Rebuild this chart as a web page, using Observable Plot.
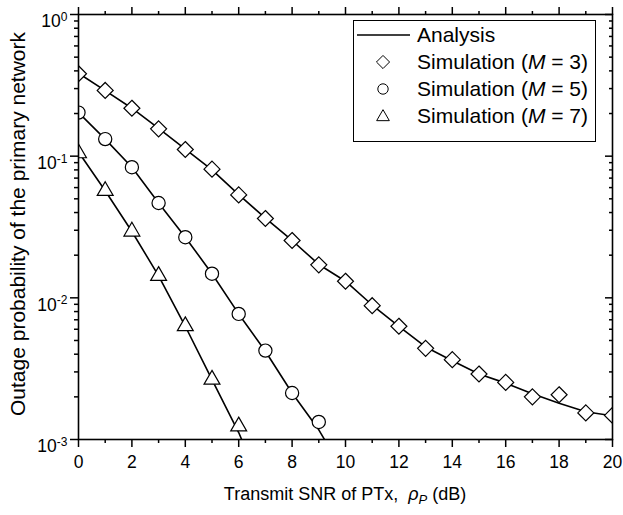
<!DOCTYPE html>
<html><head><meta charset="utf-8">
<script src="https://cdn.jsdelivr.net/npm/d3@7"></script>
<script src="https://cdn.jsdelivr.net/npm/@observablehq/plot@0.6"></script>
<style>
body{margin:0;background:#fff;}
</style>
</head><body><div id="chart"></div>
<script>
// ---- data ----
const snrDb = [0,1,2,3,4,5,6,7,8,9,10,11,12,13,14,15,16,17,18,19,20];
const anaM3 = [0.385,0.290,0.218,0.157,0.112,0.080,0.0535,0.0365,0.0254,0.0172,0.0131,0.0089,0.0063,0.0045,0.0036,0.0029,0.0025,0.0021,0.0018,0.00157,0.00147];
const simM3 = [0.382,0.291,0.218,0.156,0.1115,0.081,0.0533,0.0363,0.0254,0.0171,0.0131,0.0088,0.0063,0.0044,0.00366,0.0029,0.00253,0.0020,0.00207,0.00154,0.00148];
const anaM5 = [0.203,0.132,0.0836,0.0467,0.0268,0.0148,0.0077,0.0042,0.00213,0.00117,0.00056];
const simM5 = [0.203,0.132,0.0836,0.0467,0.0268,0.0148,0.0077,0.00424,0.00213,0.00133];
const anaM7 = [0.107,0.057,0.0294,0.0143,0.0063,0.00265,0.00112,0.0004];
const simM7 = [0.105,0.0569,0.0294,0.0143,0.00632,0.00265,0.00124];
const xMajor = [0,2,4,6,8,10,12,14,16,18,20];
const xMinor = [1,3,5,7,9,11,13,15,17,19];
const yMajor = [1e-3,1e-2,1e-1,1];
const yMinor = [2e-3,3e-3,4e-3,5e-3,6e-3,7e-3,8e-3,9e-3,2e-2,3e-2,4e-2,5e-2,6e-2,7e-2,8e-2,9e-2,0.2,0.3,0.4,0.5,0.6,0.7,0.8,0.9];
const legendLabels = ["Analysis", "3", "5", "7"];

const toRows = (ys) => ys.map((v, i) => ({x: snrDb[i], y: v}));
const FONT = "Arial, 'Liberation Sans', Helvetica, sans-serif";
const blank = () => "";

const plot = Plot.plot({
  width: 623, height: 515,
  marginLeft: 78, marginRight: 11, marginTop: 14, marginBottom: 76,
  style: {fontFamily: FONT, fontSize: "17.5px", background: "white", color: "black", overflow: "visible"},
  x: {domain: [0, 20]},
  y: {type: "log", domain: [1e-3, 1]},
  marks: [
    // bottom axis
    Plot.axisX({anchor: "bottom", ticks: xMajor, tickSize: 8, tickPadding: 8, tickFormat: d => String(d), label: null, strokeWidth: 1.5}),
    Plot.axisX({anchor: "bottom", ticks: xMinor, tickSize: 4, tickFormat: blank, label: null, strokeWidth: 1.5}),
    // top axis
    Plot.axisX({anchor: "top", ticks: xMajor, tickSize: 8, tickFormat: blank, label: null, strokeWidth: 1.5}),
    Plot.axisX({anchor: "top", ticks: xMinor, tickSize: 4, tickFormat: blank, label: null, strokeWidth: 1.5}),
    // left axis
    Plot.axisY({anchor: "left", ticks: yMajor, tickSize: 8, tickPadding: 3, tickFormat: d => String(Math.round(Math.log10(d))), label: null, strokeWidth: 1.5}),
    Plot.axisY({anchor: "left", ticks: yMinor, tickSize: 4, tickFormat: blank, label: null, strokeWidth: 1.5}),
    // right axis (ticks point inward)
    Plot.axisY({anchor: "right", ticks: yMajor, tickSize: -8, tickFormat: blank, label: null, strokeWidth: 1.5}),
    Plot.axisY({anchor: "right", ticks: yMinor, tickSize: -4, tickFormat: blank, label: null, strokeWidth: 1.5}),
    // analysis curves
    Plot.line(toRows(anaM3), {x: "x", y: "y", stroke: "black", strokeWidth: 1.6, clip: true}),
    Plot.line(toRows(anaM5), {x: "x", y: "y", stroke: "black", strokeWidth: 1.6, clip: true}),
    Plot.line(toRows(anaM7), {x: "x", y: "y", stroke: "black", strokeWidth: 1.6, clip: true}),
    // simulation markers
    Plot.dot(toRows(simM3), {x: "x", y: "y", symbol: "diamond2", r: 7.2, fill: "white", stroke: "black", strokeWidth: 1.2, clip: true}),
    Plot.dot(toRows(simM5), {x: "x", y: "y", symbol: "circle", r: 6.6, fill: "white", stroke: "black", strokeWidth: 1.2, clip: true}),
    Plot.dot(toRows(simM7), {x: "x", y: "y", symbol: "triangle", r: 5.9, fill: "white", stroke: "black", strokeWidth: 1.2, clip: true}),
    Plot.frame({stroke: "black", strokeWidth: 1.6})
  ]
});

document.getElementById("chart").appendChild(plot);
const svg = d3.select(plot);

// superscript power-of-ten y tick labels
svg.selectAll('g[aria-label="y-axis tick label"] text').each(function() {
  const e = this.textContent;
  if (!e) return;
  const t = d3.select(this);
  t.text("");
  t.append("tspan").text("10");
  t.append("tspan").attr("dy", "-0.55em").style("font-size", "12px").text(e);
  t.attr("dy", "0.42em");
});

// axis titles
const xTitle = svg.append("text").attr("x", 345).attr("y", 500)
  .attr("text-anchor", "middle").attr("font-size", 18).attr("fill", "black");
xTitle.append("tspan").text("Transmit SNR of PTx,\u00A0\u00A0");
xTitle.append("tspan").attr("font-style", "italic").text("\u03C1");
xTitle.append("tspan").attr("font-style", "italic").attr("font-size", 13).attr("dy", "4").text("P");
xTitle.append("tspan").attr("dy", "-4").text(" (dB)");

svg.append("text").attr("transform", "translate(25,224) rotate(-90)")
  .attr("text-anchor", "middle").attr("font-size", 21).attr("fill", "black")
  .text("Outage probability of the primary network");

// legend
const leg = svg.append("g").attr("font-size", 21).attr("fill", "black").attr("text-anchor", "start");
leg.append("rect").attr("x", 353.5).attr("y", 20.5).attr("width", 242).attr("height", 121)
  .attr("fill", "white").attr("stroke", "black").attr("stroke-width", 1);
const rowY = [35, 62, 89, 116];
leg.append("line").attr("x1", 357).attr("x2", 410).attr("y1", rowY[0]).attr("y2", rowY[0])
  .attr("stroke", "black").attr("stroke-width", 1.6);
leg.append("text").attr("x", 417).attr("y", rowY[0] + 7).text(legendLabels[0]);
const legSyms = [d3.symbolDiamond2, d3.symbolCircle, d3.symbolTriangle];
const legSizes = [110, 85, 70];
for (let i = 1; i < 4; i++) {
  leg.append("path").attr("d", d3.symbol(legSyms[i-1], legSizes[i-1])())
    .attr("transform", `translate(383,${rowY[i] + (i === 3 ? 1 : 0)})`)
    .attr("fill", "white").attr("stroke", "black").attr("stroke-width", 1);
  const t = leg.append("text").attr("x", 417).attr("y", rowY[i] + 7);
  t.append("tspan").text("Simulation (");
  t.append("tspan").attr("font-style", "italic").text("M");
  t.append("tspan").text(" = " + legendLabels[i] + ")");
}
</script>
</body></html>
